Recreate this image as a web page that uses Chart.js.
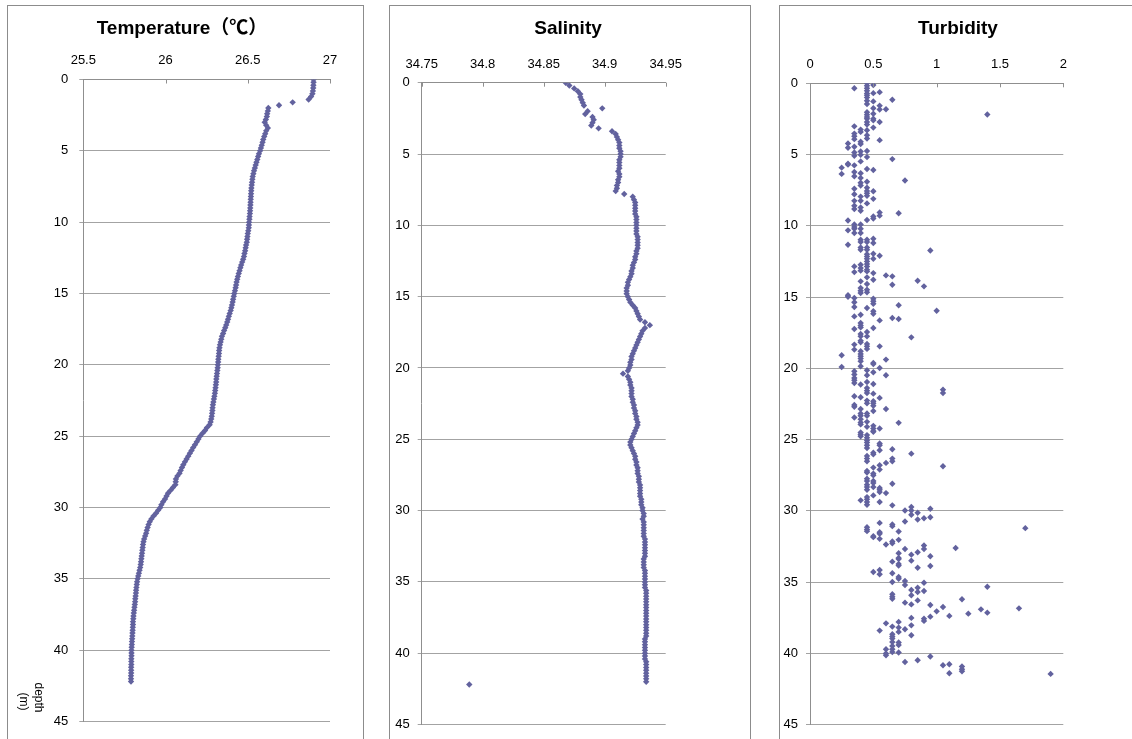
<!DOCTYPE html>
<html>
<head>
<meta charset="utf-8">
<title>CTD profile</title>
<script src="https://cdn.jsdelivr.net/npm/chart.js@4.4.1/dist/chart.umd.min.js"></script>
<style>
  html, body { margin: 0; padding: 0; background: #fff; }
  body { position: relative; width: 1132px; height: 739px; overflow: hidden; }
  .frame { position: absolute; top: 5px; height: 800px; border: 1px solid #8c8c8c; box-sizing: border-box; }
  canvas { position: absolute; top: 0; }
</style>
</head>
<body>
<div class="frame" style="left:7px;width:357px"></div>
<div class="frame" style="left:389px;width:362px"></div>
<div class="frame" style="left:779px;width:400px"></div>
<canvas id="temp" width="348" height="739" style="left:8px;width:348px;height:739px"></canvas>
<canvas id="sal" width="356" height="739" style="left:390px;width:356px;height:739px"></canvas>
<canvas id="turb" width="356" height="739" style="left:780px;width:356px;height:739px"></canvas>
<script>
// ---- CTD cast: depth grid (m) shared by temperature and salinity ----
const depthGrid = [
  0, 0.2, 0.4, 0.6, 0.8, 1, 1.2, 1.4, 1.6, 1.8,
  2, 2.2, 2.4, 2.6, 2.8, 3, 3.2, 3.4, 3.6, 3.8,
  4, 4.2, 4.4, 4.6, 4.8, 5, 5.2, 5.4, 5.6, 5.8,
  6, 6.2, 6.4, 6.6, 6.8, 7, 7.2, 7.4, 7.6, 7.8,
  8, 8.2, 8.4, 8.6, 8.8, 9, 9.2, 9.4, 9.6, 9.8,
  10, 10.2, 10.4, 10.6, 10.8, 11, 11.2, 11.4, 11.6, 11.8,
  12, 12.2, 12.4, 12.6, 12.8, 13, 13.2, 13.4, 13.6, 13.8,
  14, 14.2, 14.4, 14.6, 14.8, 15, 15.2, 15.4, 15.6, 15.8,
  16, 16.2, 16.4, 16.6, 16.8, 17, 17.2, 17.4, 17.6, 17.8,
  18, 18.2, 18.4, 18.6, 18.8, 19, 19.2, 19.4, 19.6, 19.8,
  20, 20.2, 20.4, 20.6, 20.8, 21, 21.2, 21.4, 21.6, 21.8,
  22, 22.2, 22.4, 22.6, 22.8, 23, 23.2, 23.4, 23.6, 23.8,
  24, 24.2, 24.4, 24.6, 24.8, 25, 25.2, 25.4, 25.6, 25.8,
  26, 26.2, 26.4, 26.6, 26.8, 27, 27.2, 27.4, 27.6, 27.8,
  28, 28.2, 28.4, 28.6, 28.8, 29, 29.2, 29.4, 29.6, 29.8,
  30, 30.2, 30.4, 30.6, 30.8, 31, 31.2, 31.4, 31.6, 31.8,
  32, 32.2, 32.4, 32.6, 32.8, 33, 33.2, 33.4, 33.6, 33.8,
  34, 34.2, 34.4, 34.6, 34.8, 35, 35.2, 35.4, 35.6, 35.8,
  36, 36.2, 36.4, 36.6, 36.8, 37, 37.2, 37.4, 37.6, 37.8,
  38, 38.2, 38.4, 38.6, 38.8, 39, 39.2, 39.4, 39.6, 39.8,
  40, 40.2, 40.4, 40.6, 40.8, 41, 41.2, 41.4, 41.6, 41.8,
  42, 42.2
];

// Temperature (deg C) at each depthGrid level
const temperature = [
  26.900, 26.900, 26.899, 26.898, 26.896, 26.893, 26.885, 26.870, 26.773, 26.690,
  26.625, 26.622, 26.618, 26.616, 26.610, 26.603, 26.612, 26.622, 26.612, 26.606,
  26.600, 26.594, 26.590, 26.585, 26.580, 26.575, 26.568, 26.563, 26.558, 26.553,
  26.548, 26.543, 26.538, 26.534, 26.530, 26.528, 26.526, 26.524, 26.522, 26.521,
  26.520, 26.519, 26.518, 26.517, 26.516, 26.515, 26.514, 26.513, 26.511, 26.510,
  26.508, 26.507, 26.506, 26.503, 26.500, 26.498, 26.496, 26.494, 26.490, 26.487,
  26.484, 26.480, 26.477, 26.472, 26.466, 26.460, 26.455, 26.450, 26.445, 26.440,
  26.436, 26.432, 26.429, 26.426, 26.422, 26.418, 26.415, 26.411, 26.408, 26.404,
  26.400, 26.396, 26.390, 26.385, 26.380, 26.375, 26.369, 26.363, 26.356, 26.350,
  26.343, 26.339, 26.335, 26.331, 26.328, 26.326, 26.325, 26.323, 26.321, 26.320,
  26.318, 26.317, 26.315, 26.313, 26.311, 26.309, 26.308, 26.306, 26.304, 26.302,
  26.300, 26.297, 26.294, 26.291, 26.288, 26.286, 26.285, 26.283, 26.281, 26.278,
  26.274, 26.268, 26.252, 26.240, 26.225, 26.210, 26.200, 26.190, 26.179, 26.168,
  26.158, 26.148, 26.138, 26.128, 26.118, 26.108, 26.100, 26.092, 26.085, 26.072,
  26.063, 26.062, 26.060, 26.045, 26.030, 26.015, 26.006, 25.997, 25.985, 25.975,
  25.968, 25.955, 25.942, 25.927, 25.914, 25.904, 25.897, 25.891, 25.886, 25.882,
  25.876, 25.870, 25.866, 25.863, 25.861, 25.859, 25.857, 25.855, 25.853, 25.851,
  25.849, 25.846, 25.842, 25.838, 25.834, 25.830, 25.827, 25.825, 25.823, 25.821,
  25.820, 25.818, 25.816, 25.815, 25.813, 25.811, 25.809, 25.807, 25.805, 25.804,
  25.802, 25.802, 25.801, 25.800, 25.799, 25.798, 25.797, 25.796, 25.795, 25.794,
  25.793, 25.793, 25.793, 25.792, 25.792, 25.792, 25.791, 25.791, 25.791, 25.790,
  25.790, 25.790
];

// Salinity at each depthGrid level
const salinity = [
  34.868, 34.871, 34.875, 34.878, 34.880, 34.880, 34.881, 34.882, 34.883, 34.898,
  34.886, 34.884, 34.890, 34.891, 34.890, 34.889, 34.895, 34.906, 34.909, 34.910,
  34.911, 34.912, 34.912, 34.912, 34.913, 34.913, 34.913, 34.912, 34.912, 34.912,
  34.912, 34.911, 34.912, 34.912, 34.911, 34.911, 34.910, 34.910, 34.909, 34.916,
  34.923, 34.924, 34.925, 34.925, 34.925, 34.925, 34.925, 34.926, 34.926, 34.926,
  34.926, 34.926, 34.926, 34.926, 34.927, 34.927, 34.927, 34.927, 34.927, 34.926,
  34.926, 34.925, 34.925, 34.924, 34.923, 34.923, 34.922, 34.922, 34.921, 34.920,
  34.919, 34.919, 34.918, 34.918, 34.918, 34.919, 34.920, 34.921, 34.923, 34.925,
  34.926, 34.927, 34.928, 34.929, 34.933, 34.937, 34.933, 34.931, 34.930, 34.929,
  34.928, 34.927, 34.926, 34.925, 34.924, 34.923, 34.922, 34.922, 34.921, 34.921,
  34.920, 34.919, 34.915, 34.919, 34.920, 34.921, 34.921, 34.922, 34.922, 34.922,
  34.922, 34.923, 34.923, 34.924, 34.924, 34.925, 34.925, 34.926, 34.926, 34.927,
  34.927, 34.926, 34.925, 34.924, 34.923, 34.922, 34.921, 34.921, 34.922, 34.923,
  34.924, 34.925, 34.925, 34.926, 34.926, 34.927, 34.927, 34.927, 34.928, 34.928,
  34.928, 34.929, 34.929, 34.929, 34.929, 34.929, 34.930, 34.930, 34.930, 34.931,
  34.931, 34.932, 34.932, 34.931, 34.932, 34.932, 34.932, 34.932, 34.932, 34.932,
  34.933, 34.933, 34.933, 34.933, 34.933, 34.933, 34.933, 34.932, 34.932, 34.932,
  34.932, 34.933, 34.933, 34.933, 34.933, 34.933, 34.933, 34.933, 34.934, 34.934,
  34.934, 34.934, 34.934, 34.934, 34.934, 34.934, 34.934, 34.934, 34.934, 34.934,
  34.934, 34.934, 34.934, 34.934, 34.934, 34.933, 34.933, 34.933, 34.933, 34.933,
  34.933, 34.933, 34.933, 34.934, 34.934, 34.934, 34.934, 34.934, 34.934, 34.934,
  34.934, 34.789
];

// Turbidity readings: [depth (m), turbidity]
const turbidity = [
  [0, 0.45], [0.18, 0.45], [0.35, 0.45], [0.53, 0.45], [0.71, 0.45], [0.83, 0.45], [0.99, 0.45],
  [1.22, 0.45], [1.45, 0.45], [2.03, 0.45], [2.21, 0.45], [2.37, 0.45], [2.49, 0.45], [2.72, 0.45],
  [2.9, 0.45], [3.3, 0.45], [3.64, 0.45], [3.87, 0.45], [4.75, 0.45], [5.18, 0.45], [6.01, 0.45],
  [6.91, 0.45], [7.33, 0.45], [7.56, 0.45], [7.72, 0.45], [7.9, 0.45], [8.43, 0.45], [9.59, 0.45],
  [0.12, 0.5], [0.69, 0.5], [1.27, 0.5], [1.75, 0.5], [2.14, 0.5], [2.49, 0.5], [2.6, 0.5],
  [3.11, 0.5], [6.08, 0.5], [7.58, 0.5], [8.11, 0.5], [9.35, 0.5], [9.49, 0.5],
  [0.62, 0.55], [1.57, 0.55], [1.84, 0.55], [2.72, 0.55], [3.99, 0.55], [9.06, 0.55], [9.29, 0.55],
  [0.35, 0.35], [3.02, 0.35], [3.53, 0.35], [3.71, 0.35], [3.92, 0.35], [4.45, 0.35], [4.86, 0.35],
  [5.09, 0.35], [5.76, 0.35], [6.22, 0.35], [6.52, 0.35], [7.4, 0.35], [7.79, 0.35], [8.25, 0.35],
  [8.59, 0.35], [8.82, 0.35], [9.91, 0.35], [10.09, 0.35], [10.21, 0.35], [10.51, 0.35],
  [3.25, 0.4], [3.41, 0.4], [4.1, 0.4], [4.26, 0.4], [4.79, 0.4], [5.02, 0.4], [5.48, 0.4],
  [6.31, 0.4], [6.64, 0.4], [6.98, 0.4], [7.17, 0.4], [7.95, 0.4], [8.25, 0.4], [8.71, 0.4],
  [8.94, 0.4], [9.91, 0.4], [10.21, 0.4], [10.51, 0.4],
  [4.22, 0.3], [4.52, 0.3], [5.65, 0.3], [5.71, 0.3], [9.63, 0.3], [10.32, 0.3],
  [5.92, 0.25], [6.36, 0.25], [1.82, 0.6], [1.15, 0.65], [5.32, 0.65], [9.12, 0.7], [6.82, 0.75],
  [2.19, 1.4],

  [11.33, 0.3], [14.88, 0.3], [14.98, 0.3], [19.09, 0.25], [19.91, 0.25],
  [10.98, 0.4], [11.14, 0.4], [11.52, 0.4], [11.68, 0.4], [12.73, 0.4], [12.97, 0.4], [13.15, 0.4],
  [13.9, 0.4], [14.37, 0.4], [14.56, 0.4], [14.72, 0.4], [16.24, 0.4], [16.82, 0.4], [16.99, 0.4],
  [17.13, 0.4], [17.59, 0.4], [17.76, 0.4], [18.06, 0.4], [18.18, 0.4], [18.81, 0.4], [18.99, 0.4],
  [19.16, 0.4], [19.32, 0.4], [19.51, 0.4], [19.86, 0.4], [21.14, 0.4], [22.03, 0.4],
  [10.98, 0.45], [11.14, 0.45], [11.52, 0.45], [11.68, 0.45], [11.99, 0.45], [12.15, 0.45],
  [12.31, 0.45], [12.5, 0.45], [12.69, 0.45], [12.85, 0.45], [13.08, 0.45], [13.2, 0.45],
  [13.62, 0.45], [14.09, 0.45], [14.49, 0.45], [14.67, 0.45], [15.77, 0.45], [17.45, 0.45],
  [17.76, 0.45], [18.29, 0.45], [18.46, 0.45], [18.64, 0.45], [20.14, 0.45], [20.49, 0.45],
  [20.96, 0.45], [21.38, 0.45], [21.57, 0.45], [21.73, 0.45], [22.27, 0.45],
  [10.91, 0.5], [11.21, 0.5], [11.96, 0.5], [12.31, 0.5], [13.32, 0.5], [13.79, 0.5], [15.12, 0.5],
  [15.3, 0.5], [15.47, 0.5], [16.0, 0.5], [16.17, 0.5], [17.17, 0.5], [19.63, 0.5], [19.7, 0.5],
  [20.28, 0.5], [21.1, 0.5], [21.78, 0.5], [22.31, 0.5],
  [12.85, 0.35], [13.25, 0.35], [15.07, 0.35], [15.37, 0.35], [15.7, 0.35], [16.36, 0.35],
  [17.24, 0.35], [18.34, 0.35], [18.69, 0.35], [20.21, 0.35], [20.44, 0.35], [20.68, 0.35],
  [20.84, 0.35], [21.03, 0.35], [21.96, 0.35],
  [12.1, 0.55], [16.64, 0.55], [18.46, 0.55], [19.98, 0.55], [22.08, 0.55],
  [13.48, 0.6], [19.39, 0.6], [20.49, 0.6], [13.55, 0.65], [14.14, 0.65], [16.47, 0.65],
  [15.58, 0.7], [16.54, 0.7], [17.83, 0.8], [13.86, 0.85], [14.25, 0.9], [11.73, 0.95],
  [15.96, 1.0], [21.5, 1.05], [21.73, 1.05],

  [22.58, 0.35], [22.7, 0.35], [23.45, 0.35],
  [22.86, 0.4], [23.17, 0.4], [23.33, 0.4], [23.57, 0.4], [23.8, 0.4], [23.94, 0.4], [24.51, 0.4],
  [24.65, 0.4], [24.77, 0.4], [29.27, 0.4],
  [22.46, 0.45], [23.17, 0.45], [23.33, 0.45], [23.76, 0.45], [24.11, 0.45], [24.69, 0.45],
  [24.88, 0.45], [25.05, 0.45], [25.21, 0.45], [25.4, 0.45], [25.59, 0.45], [26.15, 0.45],
  [26.34, 0.45], [26.53, 0.45], [27.21, 0.45], [27.32, 0.45], [27.75, 0.45], [27.91, 0.45],
  [28.17, 0.45], [28.33, 0.45], [28.52, 0.45], [29.04, 0.45], [29.2, 0.45], [29.39, 0.45],
  [29.58, 0.45], [31.15, 0.45], [31.31, 0.45], [31.43, 0.45],
  [22.46, 0.5], [22.63, 0.5], [23.0, 0.5], [24.04, 0.5], [24.23, 0.5], [24.41, 0.5], [24.46, 0.5],
  [25.92, 0.5], [26.03, 0.5], [26.97, 0.5], [27.39, 0.5], [27.51, 0.5], [27.91, 0.5], [28.05, 0.5],
  [28.33, 0.5], [28.92, 0.5], [31.78, 0.5], [31.85, 0.5],
  [24.23, 0.55], [25.28, 0.55], [25.4, 0.55], [25.75, 0.55], [26.81, 0.55], [27.11, 0.55],
  [28.4, 0.55], [28.52, 0.55], [28.69, 0.55], [29.39, 0.55], [30.85, 0.55], [31.5, 0.55],
  [31.62, 0.55], [31.97, 0.55],
  [22.86, 0.6], [26.64, 0.6], [28.76, 0.6], [32.37, 0.6],
  [25.68, 0.65], [26.34, 0.65], [26.53, 0.65], [28.1, 0.65], [29.62, 0.65], [30.96, 0.65],
  [31.08, 0.65], [32.16, 0.65], [32.28, 0.65], [33.57, 0.65],
  [23.83, 0.7], [31.46, 0.7], [32.04, 0.7], [32.98, 0.7], [33.31, 0.7], [33.38, 0.7], [33.73, 0.7],
  [33.85, 0.7],
  [29.98, 0.75], [30.75, 0.75], [32.68, 0.75],
  [25.99, 0.8], [29.74, 0.8], [29.98, 0.8], [30.28, 0.8], [33.08, 0.8], [33.5, 0.8],
  [30.14, 0.85], [30.61, 0.85], [32.91, 0.85], [30.52, 0.9], [32.44, 0.9], [32.68, 0.9],
  [29.86, 0.95], [30.45, 0.95], [33.19, 0.95], [26.88, 1.05], [32.61, 1.15], [31.22, 1.7],

  [34.3, 0.5], [34.16, 0.55], [34.46, 0.55], [34.39, 0.65], [34.65, 0.7], [34.77, 0.7],
  [34.0, 0.85], [33.88, 0.95], [35.0, 0.65], [34.93, 0.75], [35.21, 0.75], [35.05, 0.9],
  [35.56, 0.8], [35.4, 0.85], [35.7, 0.85], [35.63, 0.9], [35.33, 1.4], [35.86, 0.65],
  [36.03, 0.65], [36.17, 0.65], [35.93, 0.8], [36.45, 0.75], [36.57, 0.8], [36.29, 0.85],
  [36.21, 1.2], [36.61, 0.95], [37.06, 1.0], [36.75, 1.05], [37.38, 1.1], [37.22, 1.25],
  [36.92, 1.35], [37.15, 1.4], [36.85, 1.65], [37.52, 0.8], [37.57, 0.9], [37.73, 0.9],
  [37.43, 0.95], [37.9, 0.6], [38.13, 0.65], [37.8, 0.7], [38.2, 0.7], [38.5, 0.7],
  [38.32, 0.75], [38.04, 0.8], [38.74, 0.8], [38.41, 0.55], [38.67, 0.65], [38.83, 0.65],
  [38.97, 0.65], [39.21, 0.65], [39.49, 0.65], [39.72, 0.65], [39.25, 0.7], [39.42, 0.7],
  [39.72, 0.6], [40.02, 0.6], [40.14, 0.6], [39.91, 0.65], [39.95, 0.7], [40.61, 0.75],
  [40.49, 0.85], [40.23, 0.95], [40.84, 1.05], [40.77, 1.1], [41.4, 1.1], [40.93, 1.2],
  [41.12, 1.2], [41.26, 1.2], [41.45, 1.9]
];

// Axis ticks
const depthTicks = [0, 5, 10, 15, 20, 25, 30, 35, 40, 45];
const tempTicks = [25.5, 26, 26.5, 27];
const salTicks = [34.75, 34.8, 34.85, 34.9, 34.95];
const turbTicks = [0, 0.5, 1, 1.5, 2];
const depthAxisLabel = ['depth', '(m)'];

// ---- drawing ----
const MARK = '#62629e';
const GRID = '#a3a3a3';
const AXIS = '#8f8f8f';
const FONT = '"Liberation Sans", Arial, "Noto Sans CJK JP", sans-serif';

// small tick marks pointing down from the top value axis
const innerTicks = {
  id: 'innerTicks',
  afterDraw(chart) {
    const x = chart.scales.x, top = chart.chartArea.top, ctx = chart.ctx;
    ctx.save();
    ctx.strokeStyle = AXIS;
    ctx.lineWidth = 1;
    x.ticks.forEach(t => {
      const px = Math.round(x.getPixelForValue(t.value)) + 0.5;
      ctx.beginPath();
      ctx.moveTo(px, top);
      ctx.lineTo(px, top + 4);
      ctx.stroke();
    });
    ctx.restore();
  }
};

// vertical "depth (m)" caption near the bottom of the depth axis
const depthCaption = {
  id: 'depthCaption',
  afterDraw(chart) {
    const ctx = chart.ctx, a = chart.chartArea;
    const spots = [[a.left - 45, a.bottom - 24], [a.left - 60, a.bottom - 20]];
    ctx.save();
    ctx.fillStyle = '#000';
    ctx.font = '12px ' + FONT;
    ctx.textAlign = 'center';
    ctx.textBaseline = 'middle';
    depthAxisLabel.forEach((txt, i) => {
      ctx.save();
      ctx.translate(spots[i][0], spots[i][1]);
      ctx.rotate(Math.PI / 2);
      ctx.fillText(txt, 0, 0);
      ctx.restore();
    });
    ctx.restore();
  }
};

function profile(id, title, xRange, xTicks, points, geo, extra) {
  new Chart(document.getElementById(id), {
    type: 'scatter',
    data: {
      datasets: [{
        data: points,
        pointStyle: 'rectRot',
        pointRadius: 3.2,
        pointHoverRadius: 3.2,
        pointBorderWidth: 0,
        backgroundColor: MARK,
        borderColor: MARK
      }]
    },
    options: {
      responsive: false,
      animation: false,
      devicePixelRatio: 1,
      events: [],
      layout: { padding: { left: 0, right: 0, top: 0, bottom: geo.padBottom } },
      plugins: {
        legend: { display: false },
        tooltip: { enabled: false },
        title: {
          display: true,
          text: title,
          color: '#000',
          font: { family: FONT, size: 19, weight: 'bold', lineHeight: 1.2 },
          padding: { top: 17, bottom: 0 }
        }
      },
      scales: {
        x: {
          type: 'linear',
          position: 'top',
          min: xRange[0],
          max: xRange[1],
          afterBuildTicks: s => { s.ticks = xTicks.map(v => ({ value: v })); },
          afterFit: s => { s.height = geo.xAxisH; },
          grid: { display: false, drawTicks: false },
          border: { display: true, color: AXIS, width: 1 },
          ticks: {
            color: '#000',
            font: { family: FONT, size: 13, lineHeight: 1.2 },
            padding: geo.xLabelPad,
            maxRotation: 0,
            autoSkip: false,
            callback: v => String(v)
          }
        },
        y: {
          type: 'linear',
          position: 'left',
          reverse: true,
          min: 0,
          max: 45,
          afterBuildTicks: s => { s.ticks = depthTicks.map(v => ({ value: v })); },
          afterFit: s => { s.width = geo.yAxisW; },
          grid: { color: GRID, lineWidth: 1, tickLength: 4, drawTicks: true },
          border: { display: true, color: AXIS, width: 1 },
          ticks: {
            color: '#000',
            font: { family: FONT, size: 13, lineHeight: 1 },
            padding: geo.yLabelPad,
            autoSkip: false
          }
        },
        yPad: {
          axis: 'y',
          position: 'right',
          display: true,
          min: 0,
          max: 45,
          grid: { display: false },
          border: { display: false },
          ticks: { display: false },
          afterFit: s => { s.width = geo.rightW; }
        }
      }
    },
    plugins: [innerTicks].concat(extra || [])
  });
}

const toPoints = (vals) => vals.map((v, i) => ({ x: v, y: depthGrid[i] }));

profile('temp', 'Temperature\uFF08\u2103\uFF09', [25.5, 27], tempTicks, toPoints(temperature),
  { padBottom: 7.3, xAxisH: 39.7, yAxisW: 75.3, rightW: 26, xLabelPad: 11.7, yLabelPad: 11 },
  [depthCaption]);

profile('sal', 'Salinity', [34.75, 34.95], salTicks, toPoints(salinity),
  { padBottom: 10.7, xAxisH: 42.9, yAxisW: 31.7, rightW: 80.3, xLabelPad: 10.9, yLabelPad: 8 });

profile('turb', 'Turbidity', [0, 2], turbTicks, turbidity.map(r => ({ x: r[1], y: r[0] })),
  { padBottom: 9.7, xAxisH: 43.5, yAxisW: 30, rightW: 72.7, xLabelPad: 10.9, yLabelPad: 8 });
</script>
</body>
</html>
